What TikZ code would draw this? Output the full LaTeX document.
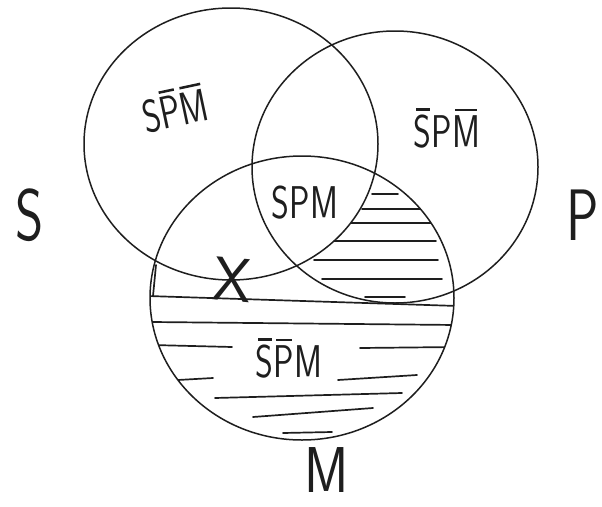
\documentclass[tikz,border=0pt]{standalone}
\usepackage{graphicx}
\usepackage{tikz}
\usetikzlibrary{positioning}
\definecolor{penink}{HTML}{1E1E1E}
\tikzset{
every picture/.style={line cap=round,line join=round},
set ring/.style={draw=penink, line width=1.5pt},
hatch line/.style={draw=penink, line width=1.7pt},
set label/.style={font=\fontsize{54}{58}\selectfont\sffamily, text=penink, inner sep=1pt},
region label/.style={font=\fontsize{34}{38}\selectfont\sffamily, text=penink, inner sep=1pt},
mark label/.style={font=\fontsize{62}{64}\selectfont\sffamily, text=penink, inner sep=0pt}
}
% a short bar over one letter, so that two bars side by side stay apart
\newcommand{\nbar}[1]{\setbox0\hbox{#1}\rlap{\hspace{0.12\wd0}\raisebox{\dimexpr\ht0+0.09em\relax}{\rule{0.76\wd0}{0.055em}}}\box0}
\newcommand{\tall}[1]{\scalebox{1}[1.35]{#1}}

\begin{document}
\begin{tikzpicture}[x=1pt,y=-1pt]
\useasboundingbox (0,0) rectangle (602,506);
\coordinate (s) at (231,144);
\coordinate (p) at (395,167);
\coordinate (m) at (302,298);
% hatching of the M part outside S
\begin{scope}[even odd rule]
\clip (m) ellipse [x radius=152, y radius=142];
\clip (0,0) rectangle (602,506) (s) ellipse [x radius=147, y radius=136];
\begin{scope}
\clip (p) ellipse [x radius=143, y radius=136];
\foreach \a/\b/\y in {372/398/194,362/422/209,347/432/223,330/436/241,314/438/260,322/442/279,365/405/297} {
\draw[hatch line] (\a,\y) -- (\b,\y);
}
\end{scope}
\foreach \a/\ya/\b/\yb in {148/296/458/306,152/322/456/325,152/345/232/347,360/348/456/347,178/380/213/378,338/380/417/375,215/398/402/393,253/417/373/408,283/433/332/432} {
\draw[hatch line] (\a,\ya) -- (\b,\yb);
}
\end{scope}
\draw[hatch line] (156,265) -- (153,296);
% the three sets
\draw[set ring] (s) ellipse [x radius=147, y radius=136];
\draw[set ring] (p) ellipse [x radius=143, y radius=136];
\draw[set ring] (m) ellipse [x radius=152, y radius=142];
% labels
\node[set label] (S label) at (30,215) {\tall{S}};
\node[set label] (P label) at (583,215) {\tall{P}};
\node[set label] (M label) at (327,470) {\scalebox{1}[1.2]{M}};
\node[region label, rotate=12] (s only) at (175,108) {\tall{S\nbar{P}\nbar{M}}};
\node[region label] (p only) at (447,128) {\tall{\nbar{S}P\nbar{M}}};
\node[region label] (spm) at (305,203) {\tall{SPM}};
\node[region label] (m only) at (289,358) {\tall{\nbar{S}\nbar{P}M}};
\node[mark label, rotate=-5] (x mark) at (233,280) {X};
\end{tikzpicture}
\end{document}
